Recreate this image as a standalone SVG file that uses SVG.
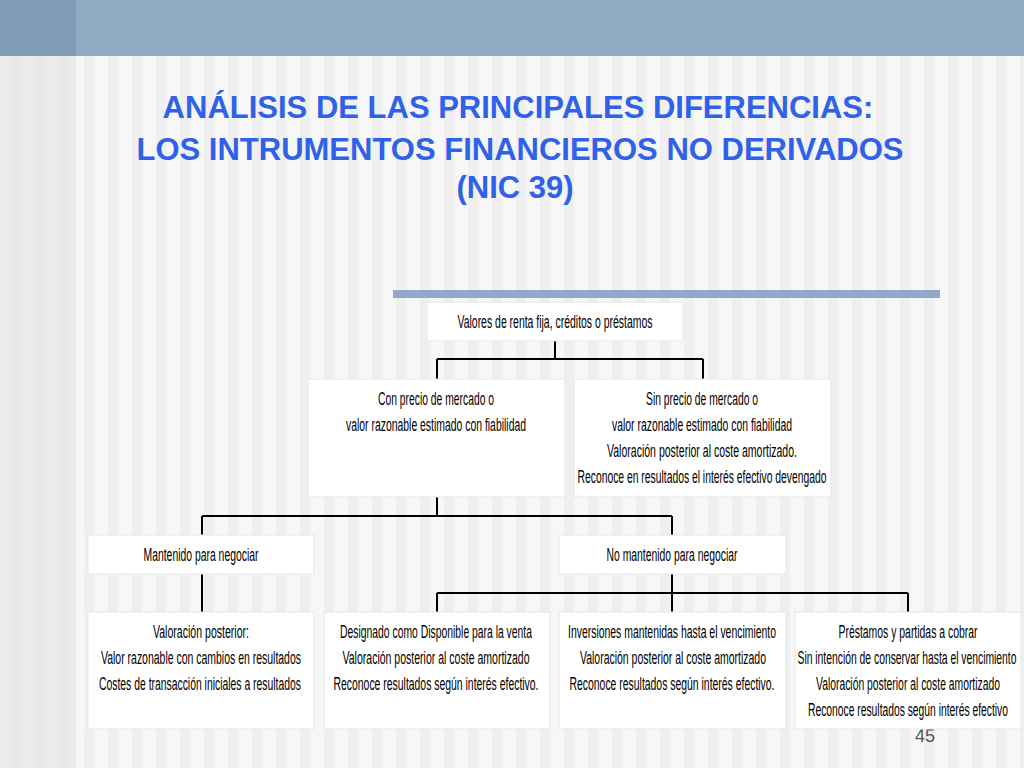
<svg xmlns="http://www.w3.org/2000/svg" width="1024" height="768" viewBox="0 0 1024 768">
<defs>
<pattern id="st" width="24" height="768" patternUnits="userSpaceOnUse">
<rect width="24" height="768" fill="#f7f7f7"/><rect x="12" width="10" height="768" fill="#efefef"/>
</pattern>
<style>
.b{fill:#fff;stroke:#e6e6e6;stroke-width:1}
.t{font-family:"Liberation Sans",Arial,sans-serif;font-size:17.5px;fill:#000;text-anchor:middle}
.h{font-family:"Liberation Sans",Arial,sans-serif;font-weight:bold;font-size:31px;fill:#2f62e8;text-anchor:middle}
.c{stroke:#000;stroke-width:2;fill:none}
</style>
</defs>
<rect width="1024" height="768" fill="url(#st)"/>
<rect x="0" y="0" width="76" height="768" fill="#e3e3e3" opacity="0.6"/>
<rect width="1024" height="56" fill="#90aac4"/>
<rect width="76" height="56" fill="#809bb6"/>
<text class="h" x="518" y="118">ANÁLISIS DE LAS PRINCIPALES DIFERENCIAS:</text>
<text class="h" x="520" y="160">LOS INTRUMENTOS FINANCIEROS NO DERIVADOS</text>
<text class="h" x="515" y="198">(NIC 39)</text>
<rect x="393" y="290" width="547" height="8" fill="#8fa9c6"/>
<g id="connectors" class="c">
<path d="M555 341V359M437 359H703M437 359V379M703 359V379"/>
<path d="M437 497V516M202 516H672M202 516V535M672 516V535"/>
<path d="M202 574V612"/>
<path d="M672 574V593M437 593H908M437 593V612M672 593V612M908 593V612"/>
</g>
<g id="n1"><rect class="b" x="427" y="302" width="256" height="39"/><text class="t" x="555" y="328" textLength="195" lengthAdjust="spacingAndGlyphs">Valores de renta fija, créditos o préstamos</text></g>
<g id="n2"><rect class="b" x="308" y="379" width="257" height="118"/><text class="t" x="436" y="405" textLength="116" lengthAdjust="spacingAndGlyphs">Con precio de mercado o</text><text class="t" x="436" y="431" textLength="180" lengthAdjust="spacingAndGlyphs">valor razonable estimado con fiabilidad</text></g>
<g id="n3"><rect class="b" x="574" y="379" width="257" height="118"/><text class="t" x="702" y="405" textLength="112" lengthAdjust="spacingAndGlyphs">Sin precio de mercado o</text><text class="t" x="702" y="431" textLength="180" lengthAdjust="spacingAndGlyphs">valor razonable estimado con fiabilidad</text><text class="t" x="702" y="457" textLength="190" lengthAdjust="spacingAndGlyphs">Valoración posterior al coste amortizado.</text><text class="t" x="702" y="483" textLength="249" lengthAdjust="spacingAndGlyphs">Reconoce en resultados el interés efectivo devengado</text></g>
<g id="n4"><rect class="b" x="88" y="535" width="226" height="39"/><text class="t" x="201" y="561" textLength="115" lengthAdjust="spacingAndGlyphs">Mantenido para negociar</text></g>
<g id="n5"><rect class="b" x="559" y="535" width="227" height="39"/><text class="t" x="672" y="561" textLength="131" lengthAdjust="spacingAndGlyphs">No mantenido para negociar</text></g>
<g id="n6"><rect class="b" x="88" y="612" width="226" height="117"/><text class="t" x="201" y="638" textLength="96" lengthAdjust="spacingAndGlyphs">Valoración posterior:</text><text class="t" x="201" y="664" textLength="200" lengthAdjust="spacingAndGlyphs">Valor razonable con cambios en resultados</text><text class="t" x="200" y="690" textLength="202" lengthAdjust="spacingAndGlyphs">Costes de transacción iniciales a resultados</text></g>
<g id="n7"><rect class="b" x="324" y="612" width="226" height="117"/><text class="t" x="436" y="638" textLength="192" lengthAdjust="spacingAndGlyphs">Designado como Disponible para la venta</text><text class="t" x="436" y="664" textLength="187" lengthAdjust="spacingAndGlyphs">Valoración posterior al coste amortizado</text><text class="t" x="436" y="690" textLength="205" lengthAdjust="spacingAndGlyphs">Reconoce resultados según interés efectivo.</text></g>
<g id="n8"><rect class="b" x="559" y="612" width="227" height="117"/><text class="t" x="672" y="638" textLength="208" lengthAdjust="spacingAndGlyphs">Inversiones mantenidas hasta el vencimiento</text><text class="t" x="673" y="664" textLength="186" lengthAdjust="spacingAndGlyphs">Valoración posterior al coste amortizado</text><text class="t" x="672" y="690" textLength="205" lengthAdjust="spacingAndGlyphs">Reconoce resultados según interés efectivo.</text></g>
<text x="925" y="742" font-family="Liberation Sans,sans-serif" font-size="18" fill="#555" text-anchor="middle">45</text>
<g id="n9"><rect class="b" x="795" y="612" width="226" height="117"/><text class="t" x="908" y="638" textLength="139" lengthAdjust="spacingAndGlyphs">Préstamos y partidas a cobrar</text><text class="t" x="907" y="664" textLength="219" lengthAdjust="spacingAndGlyphs">Sin intención de conservar hasta el vencimiento</text><text class="t" x="908" y="690" textLength="184" lengthAdjust="spacingAndGlyphs">Valoración posterior al coste amortizado</text><text class="t" x="908" y="716" textLength="200" lengthAdjust="spacingAndGlyphs">Reconoce resultados según interés efectivo</text></g>
</svg>
